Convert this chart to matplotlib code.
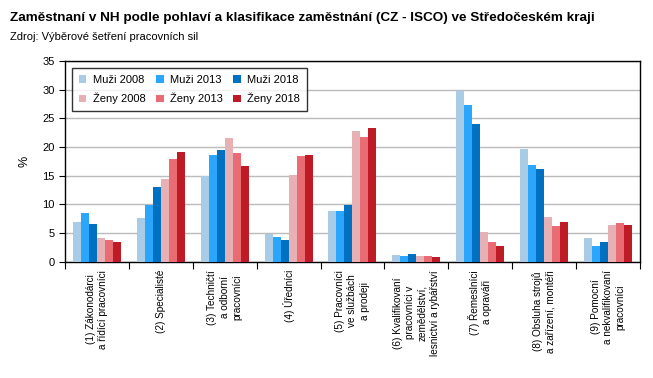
import matplotlib.pyplot as plt
import numpy as np

plt.rcParams['font.family'] = ['Liberation Sans', 'DejaVu Sans']

categories = ['(1) Zákonodárci\na řídící pracovníci', '(2) Specialisté',
              '(3) Techničtí\na odborní\npracovníci', '(4) Úředníci',
              '(5) Pracovníci\nve službách\na prodeji',
              '(6) Kvalifikovaní\npracovníci v\nzemědělství,\nlesnictví a rybářství',
              '(7) Řemeslníci\na opraváři', '(8) Obsluha strojů\na zařízení, montéři',
              '(9) Pomocní\na nekvalifikovaní\npracovníci']

muzi_2008 = [7.0, 7.6, 14.9, 4.8, 8.8, 1.2, 29.8, 19.7, 4.1]
muzi_2013 = [8.5, 9.9, 18.6, 4.3, 8.8, 1.0, 27.3, 16.9, 2.7]
muzi_2018 = [6.6, 13.0, 19.5, 3.8, 9.9, 1.3, 24.0, 16.2, 3.4]
zeny_2008 = [4.1, 14.4, 21.6, 15.1, 22.8, 1.0, 5.3, 7.8, 6.4]
zeny_2013 = [3.8, 17.9, 19.0, 18.4, 21.7, 1.0, 3.4, 6.2, 6.7]
zeny_2018 = [3.4, 19.1, 16.7, 18.6, 23.3, 0.8, 2.7, 6.9, 6.4]

series = [('Muži 2008', muzi_2008, '#A9CCE6'), ('Muži 2013', muzi_2013, '#2AA7FC'),
          ('Muži 2018', muzi_2018, '#0070C0'), ('Ženy 2008', zeny_2008, '#E6B0B5'),
          ('Ženy 2013', zeny_2013, '#E96B73'), ('Ženy 2018', zeny_2018, '#BE1B26')]

fig = plt.figure(figsize=(6.53, 3.78), dpi=100)
ax = fig.add_axes([0.0995, 0.307, 0.8805, 0.532])

x = np.arange(len(categories))
w = 0.125
bars = {}
for i, (name, vals, col) in enumerate(series):
    bars[name] = ax.bar(x + (i - 2.5) * w, vals, w, color=col, label=name, zorder=3)

ax.set_ylim(0, 35)
ax.set_xlim(-0.5, len(categories) - 0.5)
ax.set_yticks(np.arange(0, 36, 5))
ax.yaxis.grid(True, color='#BBBBBB', linewidth=1, zorder=0)
ax.tick_params(axis='y', labelsize=8, length=4, direction='out')
ax.set_xticks(np.arange(-0.5, len(categories), 1))
ax.set_xticklabels([])
ax.tick_params(axis='x', length=5, direction='out')
for xi, lab in zip(x, categories):
    ax.text(xi, -0.04, lab, transform=ax.get_xaxis_transform(), rotation=90,
            ha='center', va='top', multialignment='center', fontsize=7.2, linespacing=1.3)
for s in ax.spines.values():
    s.set_linewidth(1)
ax.set_ylabel('%', fontsize=9)
ax.yaxis.set_label_coords(-0.06, 0.5)

order = ['Muži 2008', 'Ženy 2008', 'Muži 2013', 'Ženy 2013', 'Muži 2018', 'Ženy 2018']
leg = ax.legend([bars[n] for n in order], order, ncol=3, loc='upper left',
                bbox_to_anchor=(0.012, 0.965), borderaxespad=0, fontsize=8, frameon=True,
                fancybox=False, edgecolor='black', handlelength=0.7, handleheight=0.7,
                columnspacing=0.9, handletextpad=0.6, borderpad=0.6, labelspacing=0.75)
leg.get_frame().set_linewidth(1)

fig.text(0.015, 0.945, 'Zaměstnaní v NH podle pohlaví a klasifikace zaměstnání (CZ - ISCO) ve Středočeském kraji',
         fontsize=9.7, fontweight='bold')
fig.text(0.015, 0.895, 'Zdroj: Výběrové šetření pracovních sil', fontsize=8)

fig.savefig('out.png', dpi=100)
